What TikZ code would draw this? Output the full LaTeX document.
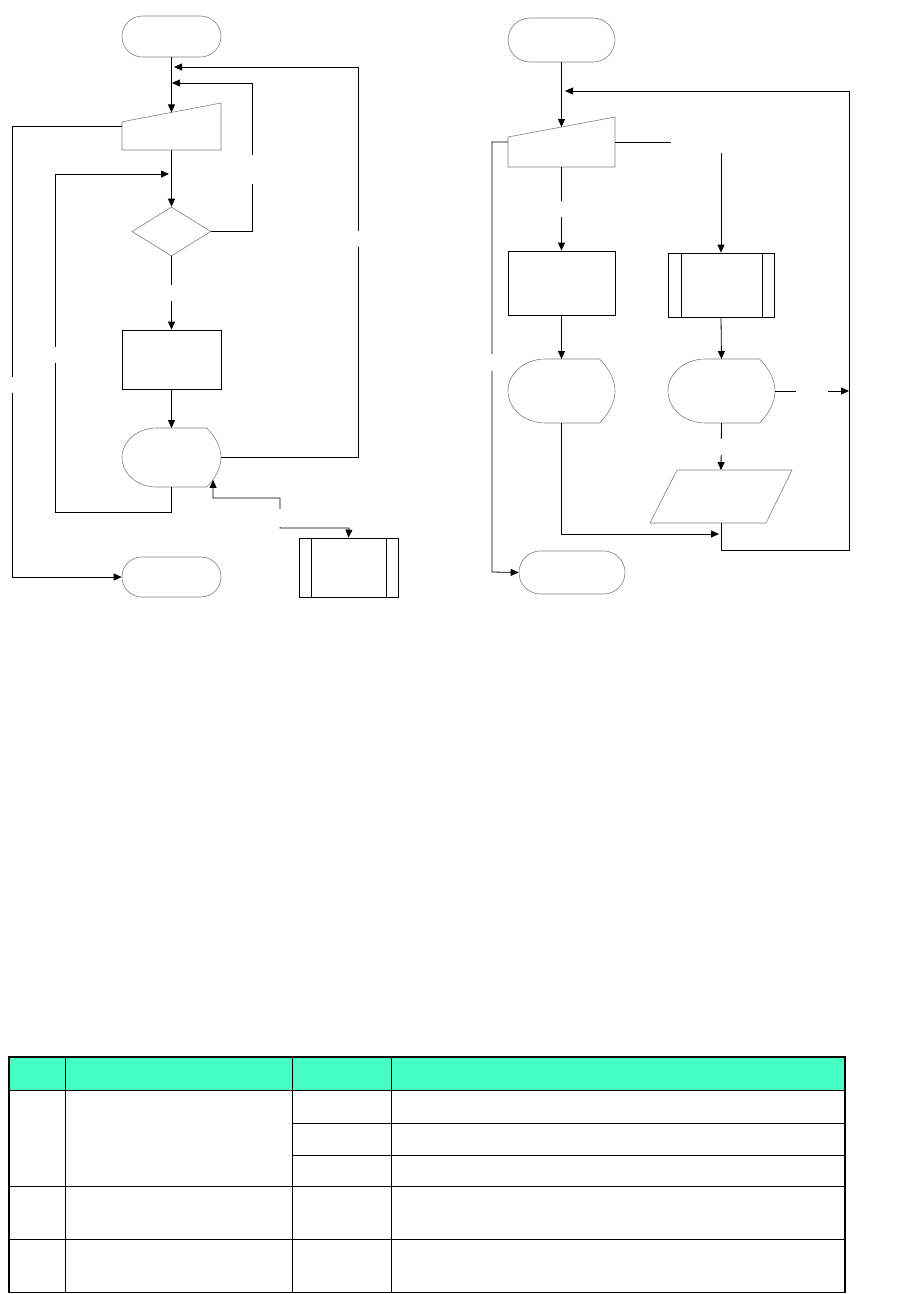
\documentclass[tikz,border=0pt]{standalone}
\usepackage{tikz}
\usetikzlibrary{arrows.meta, calc, positioning, shapes.misc, shapes.geometric}
\definecolor{headgreen}{RGB}{71,255,196}

\begin{document}
\begin{tikzpicture}[x=1pt,y=-1pt,line width=0.8pt,
    outl/.style={draw=gray, line width=0.6pt},
    term/.style={outl, rounded rectangle, inner sep=0pt},
    box/.style={draw=black, rectangle, inner sep=0pt},
    cond/.style={outl, diamond, inner sep=0pt},
    arr/.style={-{Triangle[length=8pt,width=7pt]}},
    arrboth/.style={{Triangle[length=8pt,width=7pt]}-{Triangle[length=8pt,width=7pt]}},
    gap/.style={fill=white, inner sep=0pt, minimum width=6pt},
    pics/disp/.style={code={
        \draw[outl] (-0.15,-0.5) -- (0.355,-0.5)
            .. controls (0.44,-0.36) and (0.5,-0.18) .. (0.5,0)
            .. controls (0.5,0.18) and (0.44,0.36) .. (0.355,0.5)
            -- (-0.15,0.5)
            .. controls (-0.35,0.5) and (-0.5,0.27) .. (-0.5,0)
            .. controls (-0.5,-0.27) and (-0.35,-0.5) .. (-0.15,-0.5) -- cycle;
        \coordinate (-n) at (0,-0.5);
        \coordinate (-s) at (0,0.5);
        \coordinate (-e) at (0.5,0);
        \coordinate (-se) at (0.42,0.38);
    }},
    pics/manin/.style={code={
        \draw[outl] (-0.5,-0.1) -- (0.5,-0.5) -- (0.5,0.5) -- (-0.5,0.5) -- cycle;
        \coordinate (-n) at (0,-0.3);
        \coordinate (-s) at (0,0.5);
        \coordinate (-e) at (0.5,0);
        \coordinate (-w) at (-0.5,0);
    }}]
        \useasboundingbox (0,0) rectangle (902,1294);

        % 1. Left chart: shapes
        \node[term, minimum width=99pt, minimum height=41pt] (st1) at (171.5,36.5) {};
        \pic[xscale=99, yscale=47] (mi1) at (171.5,126.5) {manin};
        \node[cond, minimum width=79pt, minimum height=49pt] (dc1) at (171.5,231.5) {};
        \node[box, minimum width=99pt, minimum height=59pt] (pr1) at (171.5,359.5) {};
        \pic[xscale=99, yscale=59] (dsp1) at (171.5,457.5) {disp};
        \node[term, minimum width=99pt, minimum height=40pt] (en1) at (171.5,577) {};
        \node[box, minimum width=99pt, minimum height=59pt] (sb1) at (348.5,567.5) {};
        \draw ([xshift=13pt]sb1.north west) -- ([xshift=13pt]sb1.south west);
        \draw ([xshift=-12pt]sb1.north east) -- ([xshift=-12pt]sb1.south east);

        % 2. Left chart: corner points
        \coordinate (j1) at (172,83);
        \coordinate (k1) at (252,83);
        \coordinate (j2) at (174,67);
        \coordinate (k2) at (358,67);
        \coordinate (j3) at (169,174);
        \coordinate (k3) at (55,512);
        \coordinate (k4) at (12,577);
        \coordinate (k5) at (280,498);
        \coordinate (k6) at (349,528);

        % 3. Left chart: connectors
        \draw[arr] (st1.south) -- (mi1-n);
        \draw[arr] (mi1-s) -- (dc1.north);
        \draw[arr] (dc1.east) -| (k1) -- (j1);
        \draw[arr] (dsp1-e) -| (k2) -- (j2);
        \draw[arr] (dsp1-s) |- (k3) |- (j3);
        \draw[arr] (mi1-w) -| (k4) -- (en1.west);
        \draw[arr] (dc1.south) -- (pr1.north);
        \draw[arr] (pr1.south) -- (dsp1-n);
        \draw[arrboth] (dsp1-se) |- (k5) |- (k6) -- (sb1.north);

        % 4. Right chart: shapes
        \node[term, minimum width=107pt, minimum height=44pt] (st2) at (561.5,40) {};
        \pic[xscale=107, yscale=50] (mi2) at (561.5,142) {manin};
        \node[box, minimum width=107pt, minimum height=64pt] (pr2) at (561.5,283) {};
        \node[box, minimum width=106pt, minimum height=64pt] (sb2) at (721,285) {};
        \draw ([xshift=14pt]sb2.north west) -- ([xshift=14pt]sb2.south west);
        \draw ([xshift=-12pt]sb2.north east) -- ([xshift=-12pt]sb2.south east);
        \pic[xscale=107, yscale=64] (dsp2) at (561.5,391) {disp};
        \pic[xscale=107, yscale=64] (dsp3) at (721.5,391) {disp};
        \draw[outl] (677,470) -- (792,470) -- (766,523) -- (650,523) -- cycle;
        \coordinate (io-n) at (721,470);
        \coordinate (io-s) at (721,523);
        \node[term, minimum width=106pt, minimum height=43pt] (en2) at (572,572.5) {};

        % 5. Right chart: corner points
        \coordinate (j4) at (719,534);
        \coordinate (j5) at (565,91);
        \coordinate (k7) at (849,550);
        \coordinate (j6) at (849,391);
        \coordinate (k8) at (492,572);

        % 6. Right chart: connectors
        \draw[arr] (st2.south) -- (mi2-n);
        \draw[arr] (mi2-s) -- (pr2.north);
        \draw[arr] (mi2-e) -| (sb2.north);
        \draw[arr] (pr2.south) -- (dsp2-n);
        \draw[arr] (sb2.south) -- (dsp3-n);
        \draw[arr] (dsp2-s) |- (j4);
        \draw[arr] (dsp3-s) -- (io-n);
        \draw[arr] (io-s) |- (k7) |- (j5);
        \draw[arr] (dsp3-e) -- (j6);
        \draw[arr] (mi2-w) -| (k8) -- (en2.west);

        % 7. Breaks in the lines
        \node[gap, minimum height=16pt] (g1) at (358,239) {};
        \node[gap, minimum height=29pt] (g2) at (252,169.5) {};
        \node[gap, minimum height=16pt] (g3) at (55,355) {};
        \node[gap, minimum height=16pt] (g4) at (12,385) {};
        \node[gap, minimum height=16pt] (g5) at (171.5,293) {};
        \node[gap, minimum height=18pt] (g6) at (280,518) {};
        \node[gap, minimum height=16pt] (g7) at (562,209) {};
        \node[gap, minimum width=59pt, minimum height=18pt] (g8) at (700.5,144) {};
        \node[gap, minimum height=16pt] (g9) at (721,447) {};
        \node[gap, minimum width=32pt, minimum height=8pt] (g10) at (812,391) {};
        \node[gap, minimum height=17pt] (g11) at (492,362.5) {};

        % 8. Table
        \fill[headgreen] (9,1057) rectangle (845,1090);
        \draw (9,1090) -- (845,1090);
        \draw (292,1123) -- (845,1123);
        \draw (292,1155) -- (845,1155);
        \draw (9,1186) -- (845,1186);
        \draw (9,1239) -- (845,1239);
        \foreach \cx in {65,292,391}
            \draw (\cx,1057) -- (\cx,1292.5);
        \draw[line width=1.8pt] (9,1057) rectangle (845,1292.5);
    \end{tikzpicture}
\end{document}
